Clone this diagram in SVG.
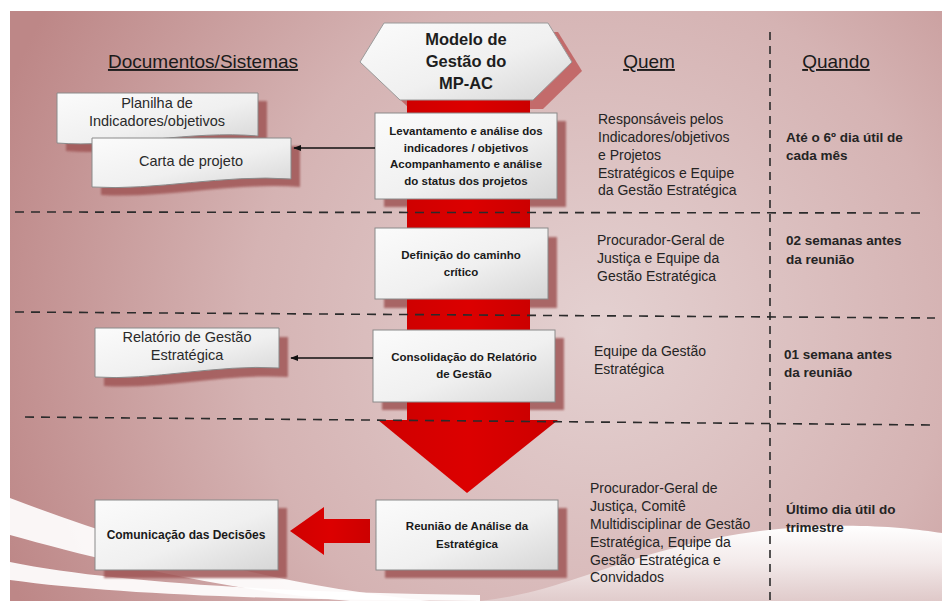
<svg xmlns="http://www.w3.org/2000/svg" width="951" height="601" viewBox="0 0 951 601">
  <defs>
    <radialGradient id="bgGrad" cx="600" cy="330" r="640" gradientUnits="userSpaceOnUse">
      <stop offset="0" stop-color="#e4d1d1"/>
      <stop offset="0.55" stop-color="#d5b3b3"/>
      <stop offset="1" stop-color="#bd8787"/>
    </radialGradient>
    <linearGradient id="boxGrad" x1="0" y1="0" x2="1" y2="1">
      <stop offset="0" stop-color="#fbfbfb"/>
      <stop offset="0.55" stop-color="#f0f0f0"/>
      <stop offset="1" stop-color="#d6d6d6"/>
    </linearGradient>
    <linearGradient id="hillGrad" x1="0" y1="0" x2="0" y2="1">
      <stop offset="0" stop-color="#ffffff" stop-opacity="1"/>
      <stop offset="0.5" stop-color="#f4ecec" stop-opacity="0.95"/>
      <stop offset="1" stop-color="#e2cfcf" stop-opacity="0.85"/>
    </linearGradient>
    <linearGradient id="redGrad" x1="0" y1="0" x2="1" y2="0">
      <stop offset="0" stop-color="#cf0000"/>
      <stop offset="0.5" stop-color="#dc0000"/>
      <stop offset="1" stop-color="#cc0000"/>
    </linearGradient>
    <filter id="soft" x="-10%" y="-10%" width="120%" height="130%">
      <feGaussianBlur stdDeviation="1.2"/>
    </filter>
    <marker id="arrowHead" viewBox="0 0 10 10" refX="9" refY="5" markerWidth="6" markerHeight="6" orient="auto">
      <path d="M0,1 L10,5 L0,9 Z" fill="#111"/>
    </marker>
    <style>
      .hdr { font-family: "Liberation Sans", Arial, sans-serif; font-size: 19px; fill: #1a1a1a; text-anchor: middle; text-decoration: underline; }
      .hex-t { font-family: "Liberation Sans", Arial, sans-serif; font-size: 16.5px; font-weight: bold; fill: #1e1e1e; text-anchor: middle; }
      .who { font-family: "Liberation Sans", Arial, sans-serif; font-size: 14px; fill: #242424; }
      .when { font-family: "Liberation Sans", Arial, sans-serif; font-size: 13.5px; font-weight: bold; fill: #242424; }
      .step { font-family: "Liberation Sans", Arial, sans-serif; font-size: 11.5px; font-weight: bold; fill: #1a1a1a; text-anchor: middle; }
      .doc { font-family: "Liberation Sans", Arial, sans-serif; font-size: 14.5px; fill: #2a2a2a; text-anchor: middle; }
      .box { fill: url(#boxGrad); stroke: #8a8a8a; stroke-width: 1; }
      .shadow { fill: #a05656; opacity: 0.85; filter: url(#soft); }
      .dash { fill: none; stroke: #2b2b2b; stroke-width: 1.6; stroke-dasharray: 9 7; }
      .vdash { fill: none; stroke: #2b2b2b; stroke-width: 1.6; stroke-dasharray: 8 6; }
      .link { fill: none; stroke: #111; stroke-width: 1.3; marker-end: url(#arrowHead); }
      .red { fill: url(#redGrad); }
    </style>
  </defs>

  <!-- page background -->
  <rect x="0" y="0" width="951" height="601" fill="#ffffff"/>
  <rect x="10" y="11" width="932" height="590" fill="url(#bgGrad)"/>

  <!-- decorative white swooshes -->
  <g id="swooshes">
    <path d="M10,498 C 120,540 260,584 430,601 L 350,601 C 220,590 100,560 10,535 Z" fill="#ffffff" opacity="0.92"/>
    <path d="M10,562 C 110,582 270,592 480,595 L 480,601 C 280,600 120,595 10,580 Z" fill="#ffffff" opacity="0.92"/>
    <path d="M480,601 C 570,592 630,548 760,531 C 840,521 905,527 942,533 L 942,601 Z" fill="url(#hillGrad)"/>
  </g>

  <!-- shadows beneath the central column -->
  <g id="shadows">
    <polygon points="370,71 394,32 558,32 582,71 543,109 410,109" fill="#c06262" opacity="0.9"/>
    <rect class="shadow" x="384" y="121" width="182" height="86"/>
    <rect class="shadow" x="384" y="237" width="173" height="71"/>
    <rect class="shadow" x="382" y="338" width="182" height="72"/>
    <rect class="shadow" x="385" y="508" width="182" height="70"/>
  </g>

  <!-- main flow spine -->
  <g id="flow-spine">
    <rect class="red" x="407" y="100" width="123" height="322"/>
    <polygon class="red" points="378,420 558,420 467,493"/>
  </g>

  <!-- section dividers -->
  <g id="dividers">
    <line class="dash" x1="15" y1="212" x2="927" y2="213"/>
    <line class="dash" x1="15" y1="312" x2="935" y2="318"/>
    <line class="dash" x1="25" y1="417" x2="932" y2="425"/>
    <line class="vdash" x1="770" y1="32" x2="770" y2="601"/>
  </g>

  <!-- column headers -->
  <g id="headers">
    <text class="hdr" x="203" y="68">Documentos/Sistemas</text>
    <text class="hdr" x="649" y="68">Quem</text>
    <text class="hdr" x="836" y="68">Quando</text>
  </g>

  <!-- model title -->
  <g id="model-title">
    <polygon points="360,62 384,23 548,23 572,62 533,100 400,100" fill="url(#boxGrad)" stroke="#9a9a9a" stroke-width="1"/>
    <text class="hex-t" x="466" y="45">Modelo de</text>
    <text class="hex-t" x="466" y="67">Gestão do</text>
    <text class="hex-t" x="466" y="89">MP-AC</text>
  </g>

  <!-- process steps -->
  <g id="step-levantamento">
    <rect class="box" x="375" y="113" width="182" height="86"/>
    <text class="step" x="466" y="135">Levantamento e análise dos</text>
    <text class="step" x="466" y="152">indicadores / objetivos</text>
    <text class="step" x="466" y="168">Acompanhamento e análise</text>
    <text class="step" x="466" y="185">do status dos projetos</text>
  </g>
  <g id="step-definicao">
    <rect class="box" x="375" y="228" width="173" height="71"/>
    <text class="step" x="461" y="259">Definição do caminho</text>
    <text class="step" x="461" y="276">crítico</text>
  </g>
  <g id="step-consolidacao">
    <rect class="box" x="373" y="330" width="182" height="72"/>
    <text class="step" x="464" y="361">Consolidação do Relatório</text>
    <text class="step" x="464" y="378">de Gestão</text>
  </g>
  <g id="step-reuniao">
    <rect class="box" x="376" y="500" width="182" height="70"/>
    <text class="step" x="467" y="530">Reunião de Análise da</text>
    <text class="step" x="467" y="548">Estratégica</text>
  </g>

  <!-- documents / systems -->
  <g id="doc-planilha">
    <path class="shadow" d="M66,101 H267 V144 C 199,138 129,156 66,151 Z"/>
    <path class="box" d="M57,93 H258 V136 C 190,130 120,148 57,143 Z"/>
    <text class="doc" x="157" y="108">Planilha de</text>
    <text class="doc" x="157" y="126">Indicadores/objetivos</text>
  </g>
  <g id="doc-carta">
    <path class="shadow" d="M101,146 H300 V187 C 234,182 164,199 101,195 Z"/>
    <path class="box" d="M92,138 H291 V179 C 225,174 155,191 92,187 Z"/>
    <text class="doc" x="191" y="166">Carta de projeto</text>
  </g>
  <g id="doc-relatorio">
    <path class="shadow" d="M104,337 H288 V377 C 227,373 159,390 104,386 Z"/>
    <path class="box" d="M95,328 H279 V368 C 218,364 150,381 95,377 Z"/>
    <text class="doc" x="187" y="342">Relatório de Gestão</text>
    <text class="doc" x="187" y="360">Estratégica</text>
  </g>
  <g id="doc-comunicacao">
    <rect class="shadow" x="104" y="508" width="183" height="70"/>
    <rect class="box" x="95" y="500" width="183" height="70"/>
    <text class="step" x="186" y="539" style="font-size:12px">Comunicação das Decisões</text>
  </g>

  <!-- connectors -->
  <g id="connectors">
    <line class="link" x1="375" y1="148" x2="294" y2="148"/>
    <line class="link" x1="373" y1="358" x2="291" y2="358"/>
    <polygon class="red" points="290,531 324,507 324,519 370,519 370,543 324,543 324,555"/>
  </g>

  <!-- who column -->
  <g id="who">
    <text class="who" x="598" y="124">Responsáveis pelos</text>
    <text class="who" x="598" y="142">Indicadores/objetivos</text>
    <text class="who" x="598" y="160">e Projetos</text>
    <text class="who" x="598" y="178">Estratégicos e Equipe</text>
    <text class="who" x="598" y="195">da Gestão Estratégica</text>

    <text class="who" x="597" y="245">Procurador-Geral de</text>
    <text class="who" x="597" y="263">Justiça e Equipe da</text>
    <text class="who" x="597" y="281">Gestão Estratégica</text>

    <text class="who" x="594" y="356">Equipe da Gestão</text>
    <text class="who" x="594" y="374">Estratégica</text>

    <text class="who" x="590" y="493">Procurador-Geral de</text>
    <text class="who" x="590" y="511">Justiça, Comitê</text>
    <text class="who" x="590" y="529">Multidisciplinar de Gestão</text>
    <text class="who" x="590" y="547">Estratégica, Equipe da</text>
    <text class="who" x="590" y="565">Gestão Estratégica e</text>
    <text class="who" x="590" y="582">Convidados</text>
  </g>

  <!-- when column -->
  <g id="when">
    <text class="when" x="786" y="142">Até o 6º dia útil de</text>
    <text class="when" x="786" y="160">cada mês</text>

    <text class="when" x="786" y="245">02 semanas antes</text>
    <text class="when" x="786" y="264">da reunião</text>

    <text class="when" x="784" y="359">01 semana antes</text>
    <text class="when" x="784" y="377">da reunião</text>

    <text class="when" x="786" y="514">Último dia útil do</text>
    <text class="when" x="786" y="532">trimestre</text>
  </g>
</svg>
